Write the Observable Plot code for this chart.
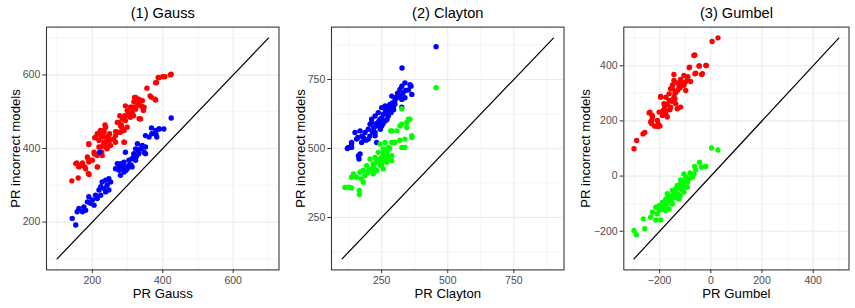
<!DOCTYPE html>
<html><head><meta charset="utf-8">
<script src="https://cdn.jsdelivr.net/npm/d3@7"></script>
<script src="https://cdn.jsdelivr.net/npm/@observablehq/plot@0.6"></script>
<style>
body{margin:0;background:#fff}
#row{display:flex;width:855px;height:308px}
svg{display:block}
</style>
</head><body><div id="row"></div>
<script>
// Panel titles and axis labels
const titles = ["(1) Gauss", "(2) Clayton", "(3) Gumbel"];
const xLabels = ["PR Gauss", "PR Clayton", "PR Gumbel"];
const yLabel = "PR incorrect models";

// Tick labels
const ticks1 = [200, 400, 600], minor1 = [100, 300, 500, 700];
const ticks2 = [250, 500, 750], minor2 = [125, 375, 625, 875];
const ticks3 = [-200, 0, 200, 400], minor3 = [-300, -100, 100, 300, 500];

// Reference diagonals (y = x)
const diag1 = [100, 700];
const diag2 = [100, 900];
const diag3 = [-300, 500];

// Panel 1 (true Gauss): red series
const p1RedX = [142,156,161,172,160,179,188,191,190,200,206,207,214,215,219,226,227,236,233,240,242,247,249,252,236,233,266,270,266,275,278,282,284,289,292,291,294,299,303,308,313,317,320,327,331,336,341,345,333,317,308,355,364,378,380,387,400,421,280,261,223,323,332,342,318,328,337,347,323,309,337,304,285,294,271,280,299,290,276,266,238,233,242,224,209,219,233,247,252,238,224,190,205,214,228,242,186,190,172,153,162,181,214,189,290,424,406,389,382,368,380];
const p1RedY = [312,361,354,361,320,350,373,329,411,368,385,429,440,350,404,431,390,464,450,418,404,435,440,423,431,411,446,444,417,471,489,465,458,481,489,417,516,503,494,512,498,512,539,534,521,530,514,503,481,489,485,564,543,534,579,593,595,600,444,426,449,539,534,530,527,518,516,512,507,512,480,489,480,476,471,462,458,449,444,435,458,444,431,435,431,422,417,422,408,404,404,413,390,381,381,399,377,363,354,359,350,345,350,332,417,602,595,592,579,539,532];
// Panel 1 (true Gauss): blue series
const p1BlueX = [424,403,389,380,368,381,351,361,328,342,337,323,351,347,318,332,313,323,304,294,290,280,271,285,299,276,290,280,304,313,266,351,247,238,228,242,233,219,224,209,214,200,190,186,195,205,176,162,172,157,143,153,252,238,247,224,181,221,369,390,383,283,295,300,288,278,310,318,325,330,340];
const p1BlueY = [483,453,453,449,456,438,435,431,413,408,399,399,404,390,386,386,372,368,368,390,363,359,359,350,345,341,336,327,354,350,345,386,318,314,309,300,291,287,273,273,264,260,269,255,251,246,241,237,228,228,210,192,309,282,287,296,232,390,440,453,431,345,340,350,356,352,355,378,378,395,402];

// Panel 2 (true Clayton): blue series
const p2BlueX = [456,327,338,326,361,319,351,364,288,307,338,326,300,281,294,263,250,275,237,256,275,225,212,244,263,206,231,250,199,225,187,168,149,180,199,225,231,174,155,136,124,136,168,212,237,269,120,136,162,164,326,357,300,250,260,240,265,280,290,230,220,245,255,270,285,215,205,190,175,160,300,310,320,330,340,295];
const p2BlueY = [869,792,738,726,726,714,712,696,690,684,684,678,672,660,648,654,648,642,630,624,618,618,606,606,600,588,582,582,570,558,558,564,558,540,534,546,522,522,534,522,504,504,480,594,594,630,500,516,474,462,650,731,684,610,625,600,640,655,665,590,575,570,590,605,630,560,545,530,545,540,660,700,690,700,710,640];
// Panel 2 (true Clayton): green series
const p2GreenX = [456,326,357,345,319,345,288,307,364,338,319,326,288,263,244,275,256,237,269,288,250,225,206,237,269,288,218,250,193,212,231,180,199,218,168,143,155,174,187,136,180,124,136,165,165,256,351,326,364,284,338,300,111,130,240,260,250,270,280,230,220,200,265,275,255,245];
const p2GreenY = [720,644,606,594,582,576,564,564,540,534,530,504,522,522,516,504,498,486,480,474,468,468,462,456,450,456,444,438,438,426,420,420,414,408,414,408,396,390,402,396,378,360,357,348,333,426,606,588,546,564,504,522,359,359,460,470,450,490,500,450,430,420,455,470,485,440];

// Panel 3 (true Gumbel): red series
const p3RedX = [28,5,-63,-19,-45,-84,-144,-62,-36,-105,-92,-118,-131,-79,-105,-124,-150,-98,-163,-137,-176,-196,-144,-163,-183,-137,-157,-176,-131,-202,-189,-241,-228,-209,-235,-300,-290,-265,-258,-238,-229,-231,-219,-206,-206,-199,-231,-196,-176,-170,-186,-157,-144,-118,-157,-66,-46,-18,-59,-33,-83,-170,-150,-140,-120,-110,-100,-130,-160,-180,-150,-120,-90,-140];
const p3RedY = [501,488,439,401,399,393,368,371,368,365,350,350,338,343,329,323,316,310,298,304,286,289,286,274,262,262,250,238,244,232,220,229,214,202,196,99,129,153,158,232,220,190,181,190,180,182,202,286,226,214,238,274,347,250,317,437,399,401,373,371,395,260,270,300,320,330,340,310,240,250,330,340,360,280];
// Panel 3 (true Gumbel): green series
const p3GreenX = [3,28,-44,-63,-20,-36,-59,-81,-105,-98,-72,-118,-92,-111,-131,-137,-150,-118,-105,-131,-163,-144,-176,-157,-189,-170,-202,-183,-215,-202,-228,-209,-176,-163,-235,-196,-215,-264,-258,-300,-291,-150,-124,-92,-66,-170,-140,-120,-110,-100,-130,-160,-180,-190,-150,-120,-100,-85];
const p3GreenY = [102,95,50,35,35,32,23,11,8,-4,-4,-14,-22,-28,-34,-46,-52,-46,-58,-64,-71,-77,-83,-89,-95,-101,-107,-113,-113,-125,-131,-137,-125,-119,-149,-159,-159,-155,-191,-197,-213,-101,-83,-40,8,-64,-60,-30,-50,-20,-80,-90,-110,-120,-70,-70,-40,-10];

const RED = "#FF0000", BLUE = "#0000FF", GREEN = "#00FF00";

const panels = [
  {title: titles[0], xlab: xLabels[0], domain: [70, 730], ticks: ticks1, minor: minor1, diag: diag1, ml: 46,
   series: [{x: p1RedX, y: p1RedY, c: RED}, {x: p1BlueX, y: p1BlueY, c: BLUE}]},
  {title: titles[1], xlab: xLabels[1], domain: [60, 940], ticks: ticks2, minor: minor2, diag: diag2, ml: 46,
   series: [{x: p2BlueX, y: p2BlueY, c: BLUE}, {x: p2GreenX, y: p2GreenY, c: GREEN}]},
  {title: titles[2], xlab: xLabels[2], domain: [-340, 540], ticks: ticks3, minor: minor3, diag: diag3, ml: 53.3,
   series: [{x: p3RedX, y: p3RedY, c: RED}, {x: p3GreenX, y: p3GreenY, c: GREEN}]}
];

const row = document.getElementById("row");
const GRID = "#EBEBEB";
for (const p of panels) {
  const diag = p.diag.map(v => ({x: v, y: v}));
  const marks = [
    Plot.gridX(p.minor, {stroke: GRID, strokeOpacity: 1, strokeWidth: 0.55}),
    Plot.gridY(p.minor, {stroke: GRID, strokeOpacity: 1, strokeWidth: 0.55}),
    Plot.gridX(p.ticks, {stroke: GRID, strokeOpacity: 1, strokeWidth: 1.1}),
    Plot.gridY(p.ticks, {stroke: GRID, strokeOpacity: 1, strokeWidth: 1.1}),
    Plot.line(diag, {x: "x", y: "y", stroke: "#000", strokeWidth: 1.2})
  ];
  for (const s of p.series) {
    const data = s.x.map((x, i) => ({x, y: s.y[i]}));
    marks.push(Plot.dot(data, {x: "x", y: "y", r: 2.7, fill: s.c, stroke: "none"}));
  }
  marks.push(
    Plot.axisX(p.ticks, {tickSize: 3.7, tickPadding: 2.5, fontSize: 10.5, stroke: "#333", fill: "#4D4D4D", label: null}),
    Plot.axisY(p.ticks, {tickSize: 3.7, tickPadding: 2.5, fontSize: 10.5, stroke: "#333", fill: "#4D4D4D", label: null}),
    Plot.frame({stroke: "#333", strokeWidth: 1.07}),
    Plot.text([p.title], {text: d => d, frameAnchor: "top", lineAnchor: "middle", dy: -14, fontSize: 14.6, fill: "#000"}),
    Plot.text([p.xlab], {text: d => d, frameAnchor: "bottom", lineAnchor: "middle", dy: 24, fontSize: 13.2, fill: "#000"}),
    Plot.text([yLabel], {text: d => d, frameAnchor: "left", textAnchor: "middle", lineAnchor: "middle", dx: 15 - p.ml, rotate: -90, fontSize: 13.2, fill: "#000"})
  );
  const chart = Plot.plot({
    width: 285, height: 308,
    marginLeft: p.ml, marginRight: 6.5, marginTop: 26.6, marginBottom: 38.6,
    x: {domain: p.domain},
    y: {domain: p.domain},
    style: {fontFamily: "'Liberation Sans', Arial, sans-serif", background: "#fff", overflow: "visible"},
    marks
  });
  row.appendChild(chart);
}
</script>
</body></html>
